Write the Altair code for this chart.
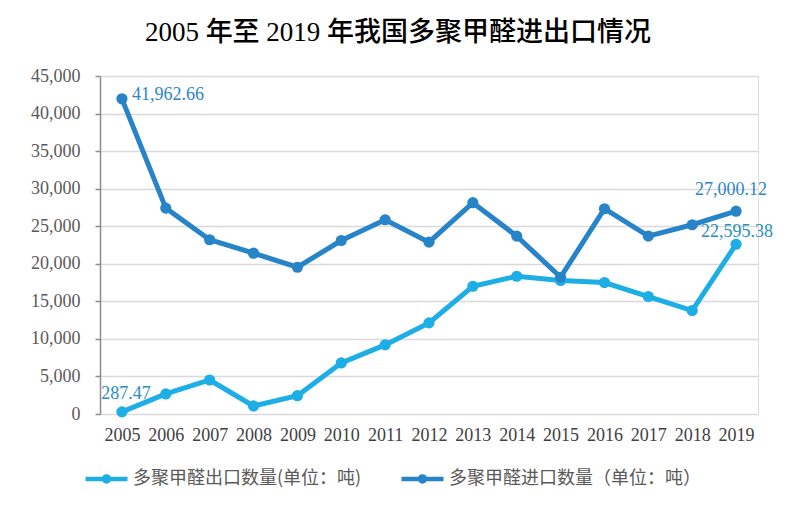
import altair as alt
import pandas as pd

years = ["2005", "2006", "2007", "2008", "2009", "2010", "2011", "2012",
         "2013", "2014", "2015", "2016", "2017", "2018", "2019"]
export_vals = [287.47, 2670, 4530, 1070, 2440, 6800, 9200, 12130,
               17010, 18340, 17770, 17500, 15640, 13770, 22595.38]
import_vals = [41962.66, 27410, 23200, 21410, 19540, 23100, 25860, 22880,
               28130, 23680, 18210, 27330, 23680, 25200, 27000.12]
series_names = ["多聚甲醛出口数量(单位：吨)", "多聚甲醛进口数量（单位：吨）"]
series_colors = ["#1eaee6", "#2784c8"]
y_ticks = [0, 5000, 10000, 15000, 20000, 25000, 30000, 35000, 40000, 45000]
title_text = "2005 年至 2019 年我国多聚甲醛进出口情况"

rows = []
for i, y in enumerate(years):
    rows.append({"year": y, "value": export_vals[i], "series": series_names[0],
                 "label": f"{export_vals[i]:,.2f}"})
    rows.append({"year": y, "value": import_vals[i], "series": series_names[1],
                 "label": f"{import_vals[i]:,.2f}"})
df = pd.DataFrame(rows)

serif = "Liberation Serif"
legend_path = "M-1,0L1,0M-0.12,0A0.12,0.12 0 1,0 0.12,0A0.12,0.12 0 1,0 -0.12,0Z"

x_enc = alt.X("year:O", sort=years, scale=alt.Scale(type="point", padding=0.5),
              axis=alt.Axis(title=None, labelAngle=0, labelFont=serif, labelFontSize=18,
                            labelColor="#404040", domain=False, ticks=False,
                            labelPadding=12, grid=False))
y_enc = alt.Y("value:Q", scale=alt.Scale(domain=[0, 45000], nice=False),
              axis=alt.Axis(title=None, values=y_ticks, format=",.0f", labelFont=serif,
                            labelFontSize=18, labelColor="#595959", domainColor="#8c8c8c",
                            domainWidth=1.5, tickColor="#8c8c8c", tickSize=5, tickWidth=1.5,
                            labelPadding=15, labelOverlap=False,
                            gridColor="#d9d9d9", gridWidth=1.5))
color_scale = alt.Scale(domain=series_names, range=series_colors)
color_enc = alt.Color("series:N", scale=color_scale,
                      legend=alt.Legend(orient="none", legendX=-17, legendY=379,
                                        direction="horizontal", title=None,
                                        symbolType=legend_path, symbolSize=1764,
                                        symbolStrokeWidth=4.5, labelFont="Noto Sans CJK SC",
                                        labelFontSize=18, labelColor="#595959",
                                        columnPadding=30, labelOffset=3, labelLimit=400))

base = alt.Chart(df)
lines = base.mark_line(strokeWidth=5).encode(x=x_enc, y=y_enc, color=color_enc)
points = base.mark_point(filled=True, size=125, opacity=1).encode(
    x=x_enc, y=y_enc, color=color_enc)


def label_layer(year, series, color, align, baseline, dx, dy):
    return base.transform_filter(
        (alt.datum.year == year) & (alt.datum.series == series)
    ).mark_text(font=serif, fontSize=18, color=color, align=align, baseline=baseline,
                dx=dx, dy=dy).encode(x=x_enc, y=y_enc, text="label:N")


labels = [
    label_layer("2005", series_names[1], "#2e86c6", "left", "middle", 10, -4),
    label_layer("2005", series_names[0], "#2b8cbf", "center", "bottom", 4, -9),
    label_layer("2019", series_names[1], "#2e86c6", "center", "bottom", -5, -12),
    label_layer("2019", series_names[0], "#2a8fb8", "center", "bottom", 1, -3),
]

chart = alt.layer(lines, points, *labels).properties(
    width=658, height=338,
    autosize=alt.AutoSizeParams(type="none"),
    padding={"left": 92, "top": 68, "right": 40, "bottom": 84},
    title=alt.TitleParams(title_text, font="Liberation Serif, Noto Sans CJK SC", fontSize=27,
                          fontWeight=500, color="#000000", anchor="middle",
                          dx=-31, offset=20),
).configure_view(stroke=None).configure(background="white")

chart.save("out.html", embed_options={"renderer": "svg", "actions": False})
